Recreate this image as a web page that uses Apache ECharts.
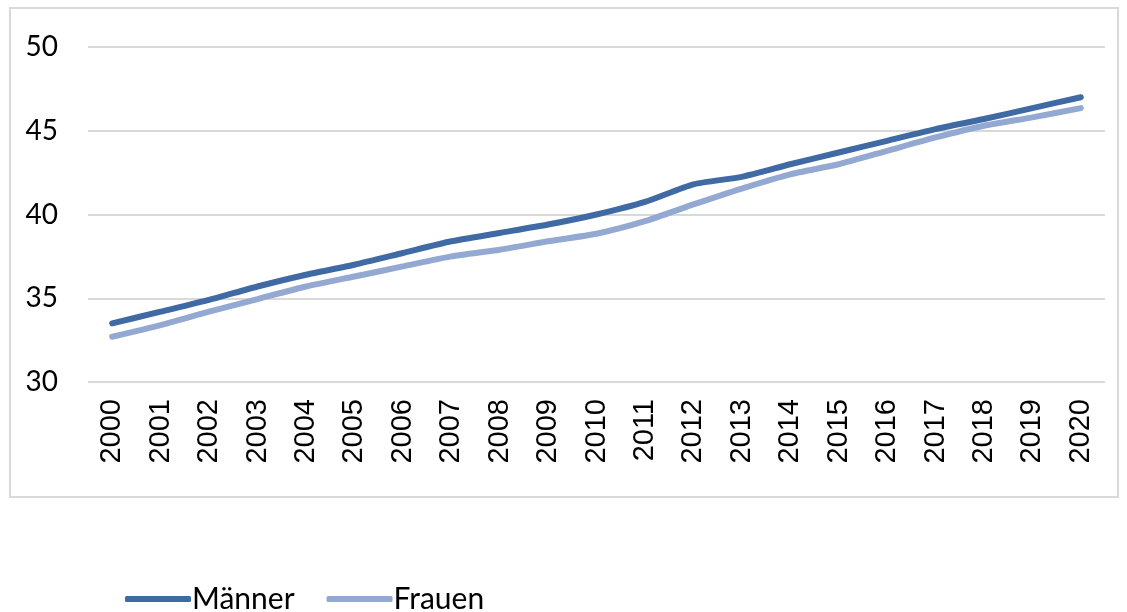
<!DOCTYPE html>
<html><head><meta charset="utf-8">
<script src="https://cdn.jsdelivr.net/npm/echarts@6/dist/echarts.min.js"></script>
<style>html,body{margin:0;padding:0;background:#fff}#c{width:1127px;height:612px}</style>
</head><body><div id="c"></div>
<script>
const years = ['2000','2001','2002','2003','2004','2005','2006','2007','2008','2009','2010','2011','2012','2013','2014','2015','2016','2017','2018','2019','2020'];
const maenner = [33.5,34.2,34.9,35.7,36.4,37.0,37.7,38.4,38.9,39.4,40.0,40.75,41.8,42.25,43.0,43.7,44.4,45.1,45.7,46.35,47.0];
const frauen = [32.7,33.4,34.2,34.95,35.7,36.3,36.9,37.5,37.9,38.4,38.85,39.6,40.6,41.55,42.4,43.0,43.8,44.6,45.3,45.8,46.35];
const yTicks = [30,35,40,45,50];

const chart = echarts.init(document.getElementById('c'));
chart.setOption({
  animation:false,
  graphic:[{type:'rect',shape:{x:10,y:8,width:1108,height:489},style:{fill:'none',stroke:'#d9d9d9',lineWidth:2},silent:true,z:-1}],
  grid:{left:88,right:22,top:47,bottom:230},
  legend:{top:579,left:120,itemWidth:66,itemHeight:6,itemGap:32,icon:'roundRect',
    textStyle:{fontFamily:'Lato',fontSize:30,color:'#000',padding:[0,0,0,-4]},
    data:['Männer','Frauen']},
  xAxis:{type:'category',data:years,boundaryGap:true,
    axisLine:{show:false},axisTick:{show:false},
    axisLabel:{rotate:90,fontFamily:'Liberation Sans',fontSize:29,color:'#000',margin:17}},
  yAxis:{type:'value',min:yTicks[0],max:yTicks[yTicks.length-1],interval:5,
    axisLine:{show:false},axisTick:{show:false},
    axisLabel:{fontFamily:'Lato',fontSize:28,color:'#000',margin:30},
    splitLine:{lineStyle:{color:'#d9d9d9',width:2}}},
  series:[
    {name:'Männer',type:'line',data:maenner,symbol:'none',smooth:0.2,
      lineStyle:{color:'#3f6aa4',width:6,cap:'round'},itemStyle:{color:'#3f6aa4'}},
    {name:'Frauen',type:'line',data:frauen,symbol:'none',smooth:0.2,
      lineStyle:{color:'#93a9d2',width:6,cap:'round'},itemStyle:{color:'#93a9d2'}}
  ]
});
</script></body></html>
